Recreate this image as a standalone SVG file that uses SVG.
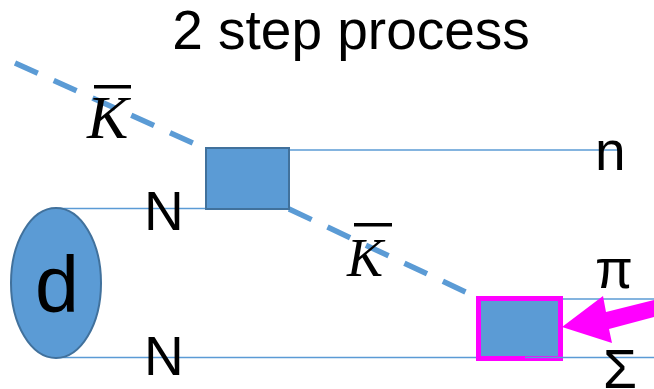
<svg xmlns="http://www.w3.org/2000/svg" width="654" height="389" viewBox="0 0 654 389">
<style>
.thin{stroke:#5B9BD5;stroke-width:1.4;fill:none}
.dash{stroke:#5B9BD5;stroke-width:5.5;fill:none;stroke-dasharray:25 17.5}
.node{fill:#5B9BD5;stroke:#41719C;stroke-width:2}
.lbl{font-family:"Liberation Sans",Arial,sans-serif;font-size:55px;fill:#000}
.kb{font-family:"Liberation Serif","Times New Roman",serif;font-style:italic;fill:#000}
</style>
<rect width="654" height="389" fill="#fff"/>
<text class="lbl" x="351" y="49" text-anchor="middle">2 step process</text>
<g id="connectors">
<line class="dash" x1="15" y1="63" x2="206" y2="149"/>
<line class="dash" x1="289" y1="209" x2="472" y2="295"/>
<line class="thin" x1="56" y1="208.5" x2="207" y2="208.5"/>
<line class="thin" x1="289" y1="150" x2="618" y2="150"/>
<line class="thin" x1="56" y1="357.5" x2="478" y2="357.5"/>
<line class="thin" x1="560" y1="299" x2="654" y2="299"/>
</g>
<g id="d">
<ellipse class="node" cx="56" cy="283" rx="45" ry="75"/>
<text class="lbl" x="35" y="312" style="font-size:79px">d</text>
</g>
<g id="vertex1">
<rect class="node" x="206" y="148" width="83" height="61"/>
</g>
<g id="vertex2">
<rect x="478.5" y="298.5" width="82" height="60" fill="#5B9BD5" stroke="#FF00FF" stroke-width="5"/>
</g>
<line class="thin" x1="525" y1="357.5" x2="654" y2="357.5"/>
<g id="arrow">
<polygon points="562,327 603,296 606,312 654,300 654,317 609,329 612,343" fill="#FF00FF"/>
</g>
<g id="labels">
<text class="kb" x="87" y="138" style="font-size:62px">K</text>
<rect x="94" y="85" width="37" height="3.5" fill="#000"/>
<text class="kb" x="347" y="276" style="font-size:54px">K</text>
<rect x="354" y="223" width="38" height="3.5" fill="#000"/>
<text class="lbl" x="144" y="230">N</text>
<text class="lbl" x="144" y="375">N</text>
<text class="lbl" x="595" y="170">n</text>
<text class="lbl" x="595" y="288">π</text>
<text class="lbl" x="603" y="388">Σ</text>
</g>
</svg>
